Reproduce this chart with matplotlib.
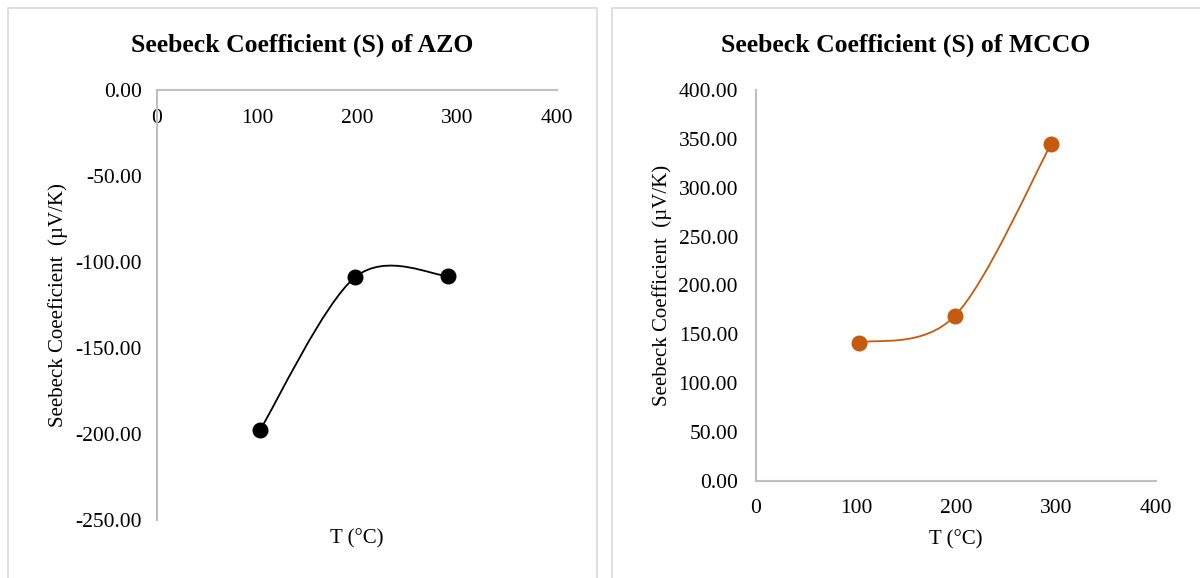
import matplotlib
matplotlib.use("Agg")
import matplotlib.pyplot as plt
from matplotlib.path import Path
from matplotlib.patches import PathPatch, Rectangle
import numpy as np

plt.rcParams['font.family'] = ['Liberation Serif', 'DejaVu Serif']
plt.rcParams['axes.unicode_minus'] = False

# ---- data ----
temps_azo = [103, 198, 291]
seebeck_azo = [-197.7, -108.9, -108.1]
temps_mcco = [103, 199, 295]
seebeck_mcco = [141.5, 169.1, 344.5]

azo_yticks = [0, -50, -100, -150, -200, -250]
mcco_yticks = [0, 50, 100, 150, 200, 250, 300, 350, 400]
xticks = [0, 100, 200, 300, 400]

title_azo = "Seebeck Coefficient (S) of AZO"
title_mcco = "Seebeck Coefficient (S) of MCCO"
ylabel_azo = "Seebeck Coeeficient  (\u00b5V/K)"
ylabel_mcco = "Seebeck Coefficient  (\u00b5V/K)"
xlabel = "T (\u00b0C)"

AXIS_GRAY = "#bfbfbf"
BORDER_GRAY = "#d9d9d9"
ORANGE = "#C55A11"

W, H = 1200, 578
fig = plt.figure(figsize=(W / 100, H / 100), dpi=100)


def px_rect(x0, y0, x1, y1):
    return [x0 / W, 1 - y1 / H, (x1 - x0) / W, (y1 - y0) / H]


# panel borders
panels = [(8, 597), (612, 1210)]
for (x0, x1) in panels:
    fig.add_artist(Rectangle((x0 / W, -0.1), (x1 - x0) / W, 1.1 - 8 / H,
                             transform=fig.transFigure, fill=False,
                             edgecolor=BORDER_GRAY, linewidth=1.2))


def smooth_path(xs, ys):
    pts = np.column_stack([xs, ys]).astype(float)
    n = len(pts)
    ext = np.vstack([pts[0], pts, pts[-1]])
    verts = [pts[0]]
    codes = [Path.MOVETO]
    for i in range(n - 1):
        p0, p1, p2, p3 = ext[i], ext[i + 1], ext[i + 2], ext[i + 3]
        c1 = p1 + (p2 - p0) / 6.0
        c2 = p2 - (p3 - p1) / 6.0
        verts += [c1, c2, p2]
        codes += [Path.CURVE4] * 3
    return Path(verts, codes)


TICK_FS = 15.5


def style_axes(ax):
    for s in ['top', 'right']:
        ax.spines[s].set_visible(False)
    for s in ['left', 'bottom']:
        ax.spines[s].set_color(AXIS_GRAY)
        ax.spines[s].set_linewidth(1.5)
    ax.tick_params(length=0, labelsize=TICK_FS, colors='black')
    ax.set_xticks(xticks)
    ax.set_xticklabels([str(t) for t in xticks])
    ax.set_xlim(0, 400)


# ---- AZO ----
ax1 = fig.add_axes(px_rect(157, 90, 557, 520))
style_axes(ax1)
ax1.set_ylim(-250, 0)
ax1.set_yticks(azo_yticks)
ax1.set_yticklabels([f"{v:.2f}" for v in azo_yticks])
ax1.spines['bottom'].set_position(('data', 0))
ax1.tick_params(axis='y', pad=11)
ax1.tick_params(axis='x', pad=14)
ax1.add_patch(PathPatch(smooth_path(temps_azo, seebeck_azo), facecolor='none',
                        edgecolor='black', linewidth=1.3, zorder=3))
ax1.plot(temps_azo, seebeck_azo, 'o', color='black', markersize=10.5, zorder=4,
         clip_on=False)
ax1.set_xlabel(xlabel, fontsize=15)
ax1.xaxis.set_label_coords(0.5, -0.022)
ax1.set_ylabel(ylabel_azo, fontsize=15)
ax1.yaxis.set_label_coords(-0.222, 0.5)

# ---- MCCO ----
ax2 = fig.add_axes(px_rect(756, 90, 1156, 481))
style_axes(ax2)
ax2.set_ylim(0, 400)
ax2.set_yticks(mcco_yticks)
ax2.set_yticklabels([f"{v:.2f}" for v in mcco_yticks])
ax2.tick_params(axis='y', pad=13)
ax2.tick_params(axis='x', pad=13)
ax2.add_patch(PathPatch(smooth_path(temps_mcco, seebeck_mcco), facecolor='none',
                        edgecolor=ORANGE, linewidth=1.3, zorder=3))
ax2.plot(temps_mcco, seebeck_mcco, 'o', color=ORANGE, markersize=10.5, zorder=4,
         clip_on=False)
ax2.set_xlabel(xlabel, fontsize=15)
ax2.xaxis.set_label_coords(0.5, -0.125)
ax2.set_ylabel(ylabel_mcco, fontsize=15)
ax2.yaxis.set_label_coords(-0.21, 0.5)

# titles centred on their panels
for (x0, x1), title in zip(panels, [title_azo, title_mcco]):
    xc = (x0 + min(x1, 1200)) / 2
    fig.text(xc / W, 1 - 45 / H, title, fontsize=18.5, fontweight='bold',
             ha='center', va='center')

fig.savefig("out.png", dpi=100)
